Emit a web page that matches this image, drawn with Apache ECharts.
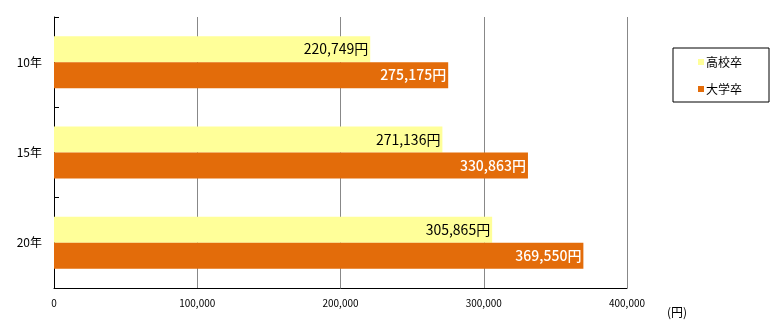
<!DOCTYPE html>
<html>
<head>
<meta charset="utf-8">
<script src="https://cdn.jsdelivr.net/npm/echarts@6/dist/echarts.min.js"></script>
<style>
  html, body { margin: 0; padding: 0; background: #fff; }
  #chart { width: 782px; height: 335px; }
</style>
</head>
<body>
<div id="chart"></div>
<script>
// Monthly salary by years of service and education level (yen)
const categories = ['10年', '15年', '20年'];
const seriesNames = ['高校卒', '大学卒'];
const highSchool = [220749, 271136, 305865];
const university = [275175, 330863, 369550];
const xTicks = [0, 100000, 200000, 300000, 400000];
const unitLabel = '(円)';

const FONT = '"Noto Sans CJK JP", "Noto Sans", sans-serif';
const YELLOW = '#FFFF99';
const ORANGE = '#E36C0A';

function withComma(v) {
  return String(v).replace(/\B(?=(\d{3})+(?!\d))/g, ',');
}

const chart = echarts.init(document.getElementById('chart'), null, { renderer: 'canvas' });

chart.setOption({
  animation: false,
  backgroundColor: '#fff',
  textStyle: { fontFamily: FONT },
  grid: { left: 54, right: 155, top: 17, bottom: 47, containLabel: false },
  legend: {
    orient: 'vertical',
    left: 673,
    top: 48,
    padding: [8, 27, 7, 25],
    borderColor: '#000',
    borderWidth: 1,
    itemWidth: 6,
    itemHeight: 6,
    itemGap: 15,
    icon: 'rect',
    textStyle: { fontFamily: FONT, fontSize: 12, color: '#000', padding: [0, 0, 0, -3] },
    data: seriesNames
  },
  xAxis: {
    type: 'value',
    min: xTicks[0],
    max: xTicks[xTicks.length - 1],
    interval: xTicks[1] - xTicks[0],
    axisLine: { show: true, lineStyle: { color: '#000', width: 1 } },
    axisTick: { show: false },
    splitLine: { show: true, lineStyle: { color: '#888', width: 1 } },
    axisLabel: {
      margin: 10,
      fontFamily: FONT,
      fontSize: 10,
      color: '#000',
      formatter: v => withComma(v)
    }
  },
  yAxis: {
    type: 'category',
    inverse: true,
    data: categories,
    axisLine: { show: true, lineStyle: { color: '#000', width: 1 } },
    axisTick: { show: true, inside: true, length: 5, lineStyle: { color: '#000' } },
    axisLabel: { margin: 12, fontFamily: FONT, fontSize: 12, color: '#000' }
  },
  graphic: [{
    type: 'text',
    left: 667,
    top: 306,
    style: { text: unitLabel, font: '12px ' + FONT, fill: '#000' }
  }],
  series: [
    {
      name: seriesNames[0],
      type: 'bar',
      data: highSchool,
      barWidth: 26,
      barGap: '0%',
      itemStyle: { color: YELLOW },
      label: {
        show: true,
        position: 'insideRight',
        distance: 2,
        fontFamily: FONT,
        fontSize: 14,
        color: '#000',
        formatter: p => withComma(p.value) + '円'
      }
    },
    {
      name: seriesNames[1],
      type: 'bar',
      data: university,
      barWidth: 26,
      barGap: '0%',
      itemStyle: { color: ORANGE },
      label: {
        show: true,
        position: 'insideRight',
        distance: 2,
        fontFamily: FONT,
        fontSize: 14,
        fontWeight: 500,
        color: '#fff',
        formatter: p => withComma(p.value) + '円'
      }
    }
  ]
});
</script>
</body>
</html>
